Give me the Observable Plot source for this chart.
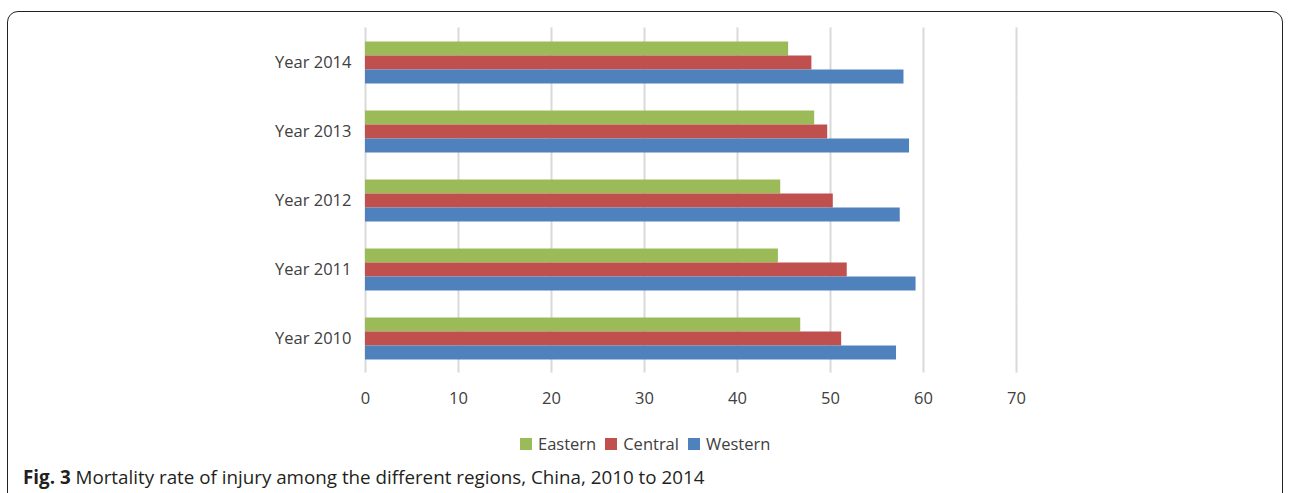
<!DOCTYPE html>
<html>
<head>
<meta charset="utf-8">
<script src="https://cdn.jsdelivr.net/npm/d3@7"></script>
<script src="https://cdn.jsdelivr.net/npm/@observablehq/plot@0.6"></script>
<style>
  html, body { margin: 0; padding: 0; background: #fff; }
  #wrap { position: relative; width: 1289px; height: 493px; overflow: hidden; font-family: "Open Sans", sans-serif; }
  #frame { position: absolute; left: 7px; top: 11px; width: 1276px; height: 520px; border: 1.5px solid #222; border-radius: 11px; box-sizing: border-box; }
  #chart { position: absolute; left: 0; top: 0; }
  #legend { position: absolute; left: 520px; top: 432px; display: flex; align-items: center; font-size: 16.5px; line-height: 24px; color: #404040; white-space: nowrap; }
  #legend .item { display: flex; align-items: center; margin-right: 9px; }
  #legend .sw { width: 12px; height: 12px; margin-right: 6px; }
  #caption { position: absolute; left: 23px; top: 465px; font-size: 18.8px; line-height: 24px; color: #231f20; white-space: nowrap; }
</style>
</head>
<body>
<div id="wrap">
  <div id="frame"></div>
  <div id="chart"></div>
  <div id="legend"></div>
  <div id="caption"><b>Fig. 3</b> Mortality rate of injury among the different regions, China, 2010 to 2014</div>
</div>
<script>
const years = ["Year 2014", "Year 2013", "Year 2012", "Year 2011", "Year 2010"];
const regions = ["Eastern", "Central", "Western"];
const colors = ["#9BBB59", "#C0504D", "#4F81BD"];
const eastern = [45.5, 48.3, 44.65, 44.4, 46.8];
const central = [48.0, 49.7, 50.3, 51.8, 51.2];
const western = [57.9, 58.5, 57.5, 59.2, 57.1];
const xTicks = [0, 10, 20, 30, 40, 50, 60, 70];

const series = [eastern, central, western];
const data = [];
years.forEach((yr, i) => {
  regions.forEach((r, j) => data.push({year: yr, region: r, value: series[j][i]}));
});

const chart = Plot.plot({
  width: 1289,
  height: 420,
  marginLeft: 365,
  marginRight: 273,
  marginTop: 27.5,
  marginBottom: 47.5,
  style: {fontFamily: "'Open Sans', sans-serif", fontSize: "16px", color: "#404040", background: "transparent"},
  x: {domain: [0, 70], axis: null},
  y: {domain: regions, padding: 0, axis: null},
  fy: {domain: years, paddingInner: 0.39, paddingOuter: 0.195, axis: null},
  color: {domain: regions, range: colors},
  marks: [
    Plot.ruleX(xTicks, {stroke: "#d9d9d9", strokeWidth: 2, insetTop: -13.6, insetBottom: -13.6}),
    Plot.barX(data, {x: "value", y: "region", fy: "year", fill: "region"}),
    Plot.axisFy({anchor: "left", tickSize: 0, tickPadding: 14, label: null, fill: "#404040", fontSize: 16.5}),
    Plot.axisX({ticks: xTicks, tickSize: 0, tickPadding: 15, dy: 18, label: null, fill: "#404040", fontSize: 16.5})
  ]
});
document.getElementById("chart").appendChild(chart);

const legend = document.getElementById("legend");
regions.forEach((r, j) => {
  const item = document.createElement("div");
  item.className = "item";
  const sw = document.createElement("div");
  sw.className = "sw";
  sw.style.background = colors[j];
  item.appendChild(sw);
  const t = document.createElement("span");
  t.textContent = r;
  item.appendChild(t);
  legend.appendChild(item);
});
</script>
</body>
</html>
